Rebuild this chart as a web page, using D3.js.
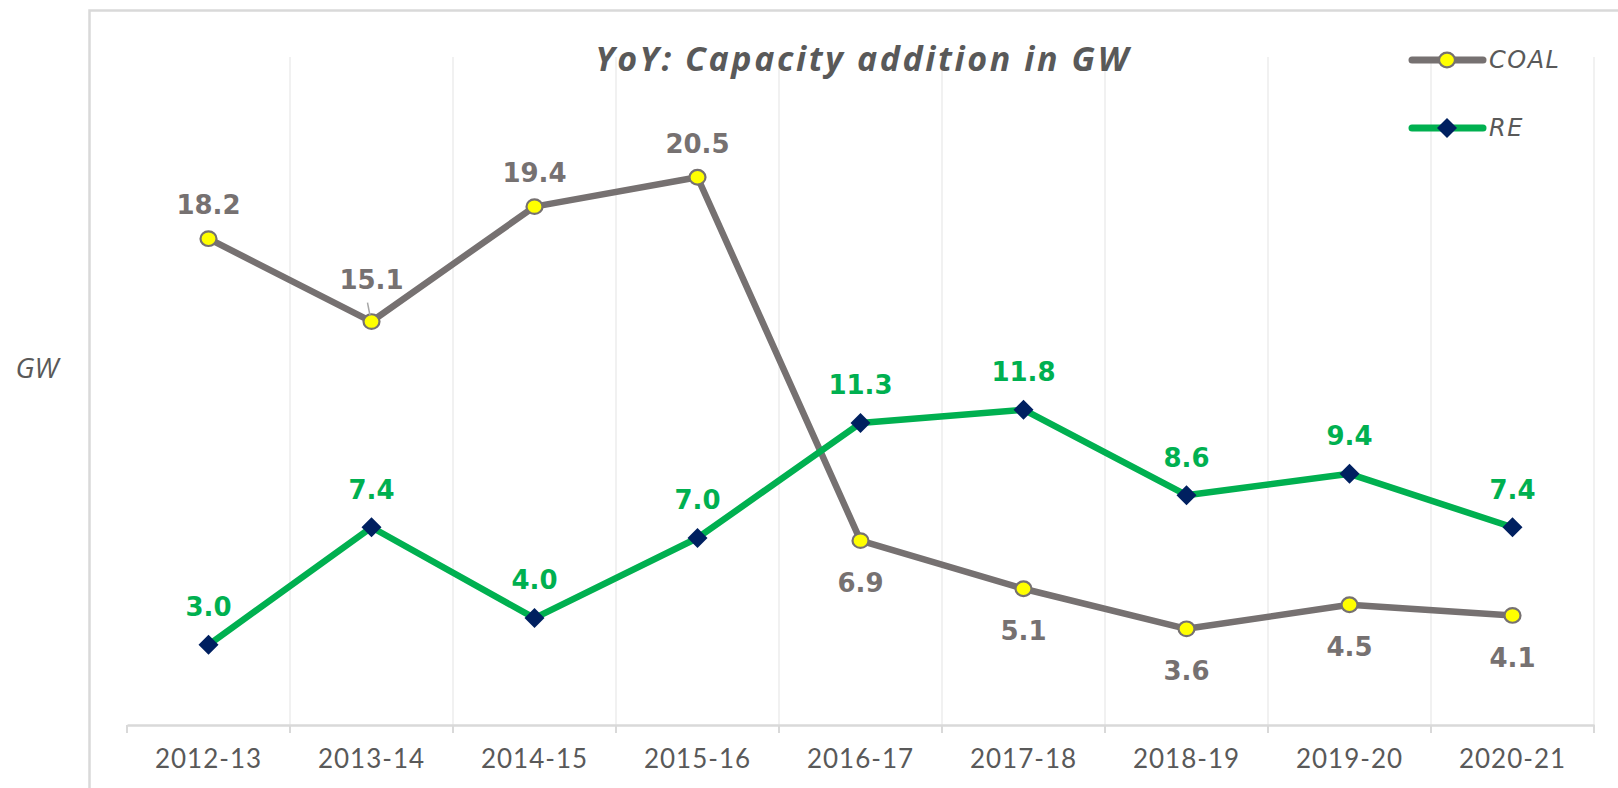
<!DOCTYPE html>
<html>
<head>
<meta charset="utf-8">
<script src="https://cdn.jsdelivr.net/npm/d3@7"></script>
<style>
  body { margin: 0; background: #fff; }
  svg { display: block; }
</style>
</head>
<body>
<div id="chart"></div>
<script>
// values
var years = ["2012-13", "2013-14", "2014-15", "2015-16", "2016-17", "2017-18", "2018-19", "2019-20", "2020-21"];
var coal = [18.2, 15.1, 19.4, 20.5, 6.9, 5.1, 3.6, 4.5, 4.1];
var re = [3.0, 7.4, 4.0, 7.0, 11.3, 11.8, 8.6, 9.4, 7.4];
var coalLabelSide = ["above", "leader", "above", "above", "below", "below", "below", "below", "below"];
var reLabelSide = ["above", "above", "above", "above", "above", "above", "above", "above", "above"];
var yDomain = [0, 25];

var W = 1618, H = 788;
var coalColor = "#767171", reColor = "#00b050", textGrey = "#595959";

var svg = d3.select("#chart").append("svg")
	.attr("width", W)
	.attr("height", H);

// chart frame (runs off the right and bottom of the picture)
svg.append("rect")
	.attr("x", 89.5)
	.attr("y", 10.5)
	.attr("width", 1700)
	.attr("height", 900)
	.attr("fill", "#fff")
	.attr("stroke", "#d9d9d9")
	.attr("stroke-width", 2.5);

var x = d3.scaleBand().domain(years).range([127, 1594]);
var y = d3.scaleLinear().domain(yDomain).range([725, 57]);
var cx = function(d, i) { return x(years[i]) + x.bandwidth() / 2; };

// vertical gridlines on category boundaries
var bounds = years.map(function(d) { return x(d); }).concat([x.range()[1]]);
svg.append("g").selectAll("line")
	.data(bounds.slice(1))
	.enter().append("line")
	.attr("x1", function(d) { return d; })
	.attr("x2", function(d) { return d; })
	.attr("y1", y(yDomain[1]))
	.attr("y2", y(0))
	.attr("stroke", "#ececec")
	.attr("stroke-width", 1.5);

// x axis
var xAxis = svg.append("g")
	.attr("transform", "translate(0," + y(0) + ")")
	.call(d3.axisBottom(x).tickSize(0).tickPadding(25));
xAxis.select(".domain")
	.attr("stroke", "#d9d9d9")
	.attr("stroke-width", 2.5);
xAxis.selectAll("text")
	.attr("fill", textGrey)
	.style("font-family", "Lato, 'Open Sans', sans-serif")
	.style("font-size", "26px")
	.style("letter-spacing", "1px");
xAxis.selectAll(".boundTick")
	.data(bounds)
	.enter().append("line")
	.attr("class", "boundTick")
	.attr("x1", function(d) { return d; })
	.attr("x2", function(d) { return d; })
	.attr("y1", 0)
	.attr("y2", 8)
	.attr("stroke", "#d9d9d9")
	.attr("stroke-width", 2);

// title
svg.append("text")
	.attr("x", 863)
	.attr("y", 59)
	.attr("dy", "0.35em")
	.attr("text-anchor", "middle")
	.attr("fill", textGrey)
	.style("font-family", "'Open Sans', sans-serif")
	.style("font-size", "34px")
	.style("font-weight", "bold")
	.style("font-style", "italic")
	.style("letter-spacing", "2.6px")
	.text("YoY: Capacity addition in GW");

// y axis title
svg.append("text")
	.attr("x", 37)
	.attr("y", 368)
	.attr("dy", "0.35em")
	.attr("text-anchor", "middle")
	.attr("fill", textGrey)
	.style("font-family", "'Open Sans', sans-serif")
	.style("font-size", "28px")
	.style("font-style", "italic")
	.text("GW");

var line = d3.line()
	.x(cx)
	.y(function(d) { return y(d); });

svg.append("path")
	.datum(coal)
	.attr("d", line)
	.attr("fill", "none")
	.attr("stroke", coalColor)
	.attr("stroke-width", 6.5)
	.attr("stroke-linejoin", "round");

svg.append("path")
	.datum(re)
	.attr("d", line)
	.attr("fill", "none")
	.attr("stroke", reColor)
	.attr("stroke-width", 6.5)
	.attr("stroke-linejoin", "round");

function coalMarker(sel) {
	sel.attr("rx", 8)
		.attr("ry", 7.3)
		.attr("fill", "#ffff00")
		.attr("stroke", coalColor)
		.attr("stroke-width", 2.2);
}

function reMarker(sel) {
	sel.attr("d", "M0,-10L10,0L0,10L-10,0Z")
		.attr("fill", "#002060");
}

svg.append("g").selectAll("ellipse")
	.data(coal)
	.enter().append("ellipse")
	.attr("cx", cx)
	.attr("cy", function(d) { return y(d); })
	.call(coalMarker);

svg.append("g").selectAll("path")
	.data(re)
	.enter().append("path")
	.attr("transform", function(d, i) { return "translate(" + cx(d, i) + "," + y(d) + ")"; })
	.call(reMarker);

// data labels
var labelFont = "'DejaVu Sans', sans-serif";
function labelY(side, v) {
	if (side == "below") return y(v) + 42;
	if (side == "leader") return y(v) - 42;
	return y(v) - 34;
}

svg.append("g").selectAll("text")
	.data(coal)
	.enter().append("text")
	.attr("x", cx)
	.attr("y", function(d, i) { return labelY(coalLabelSide[i], d); })
	.attr("dy", "0.36em")
	.attr("text-anchor", "middle")
	.attr("fill", coalColor)
	.style("font-family", labelFont)
	.style("font-size", "26px")
	.style("font-weight", "bold")
	.text(function(d) { return d3.format(".1f")(d); });

// leader line for the label that was pulled away from its point
coal.forEach(function(v, i) {
	if (coalLabelSide[i] != "leader") return;
	svg.append("line")
		.attr("x1", cx(v, i) - 4)
		.attr("x2", cx(v, i) - 1.5)
		.attr("y1", y(v) - 19)
		.attr("y2", y(v) - 6)
		.attr("stroke", "#a6a6a6")
		.attr("stroke-width", 1.5);
});

svg.append("g").selectAll("text")
	.data(re)
	.enter().append("text")
	.attr("x", cx)
	.attr("y", function(d, i) { return labelY(reLabelSide[i], d) - 4; })
	.attr("dy", "0.36em")
	.attr("text-anchor", "middle")
	.attr("fill", reColor)
	.style("font-family", labelFont)
	.style("font-size", "26px")
	.style("font-weight", "bold")
	.text(function(d) { return d3.format(".1f")(d); });

// legend
var legend = [
	{ name: "COAL", color: coalColor, marker: "circle" },
	{ name: "RE", color: reColor, marker: "diamond" }
];
var lg = svg.append("g").selectAll("g")
	.data(legend)
	.enter().append("g")
	.attr("transform", function(d, i) { return "translate(1412," + (60 + i * 68) + ")"; });

lg.append("line")
	.attr("x1", 0)
	.attr("x2", 71)
	.attr("stroke", function(d) { return d.color; })
	.attr("stroke-width", 7)
	.attr("stroke-linecap", "round");

lg.filter(function(d) { return d.marker == "circle"; })
	.append("ellipse")
	.attr("cx", 35)
	.call(coalMarker);

lg.filter(function(d) { return d.marker == "diamond"; })
	.append("path")
	.attr("transform", "translate(35,0)")
	.call(reMarker);

lg.append("text")
	.attr("x", 77)
	.attr("dy", "0.35em")
	.attr("fill", textGrey)
	.style("font-family", "'DejaVu Sans', sans-serif")
	.style("font-size", "24px")
	.style("font-style", "italic")
	.style("letter-spacing", "1.5px")
	.text(function(d) { return d.name; });
</script>
</body>
</html>
